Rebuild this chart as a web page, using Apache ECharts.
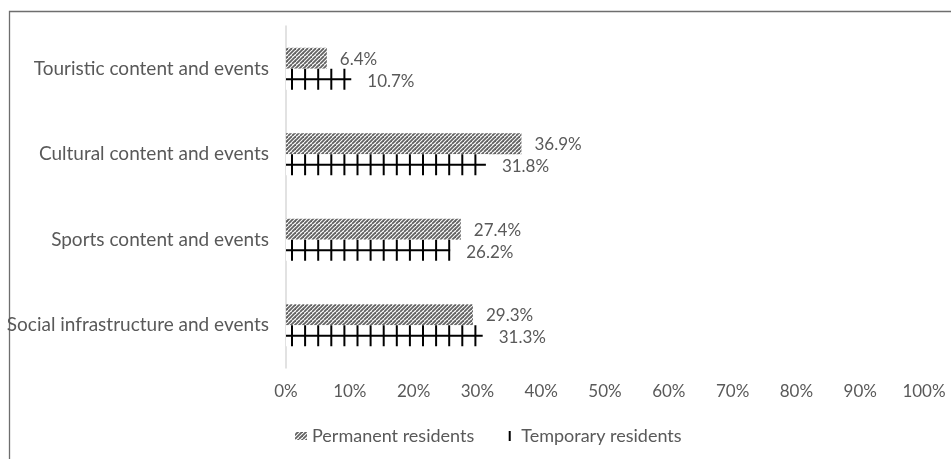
<!DOCTYPE html>
<html>
<head>
<meta charset="utf-8">
<script src="https://cdn.jsdelivr.net/npm/echarts@6/dist/echarts.min.js"></script>
<style>
html,body{margin:0;padding:0;background:#fff;}
#chart{width:951px;height:459px;}
</style>
</head>
<body>
<div id="chart"></div>
<script>
const categories = ['Touristic content and events','Cultural content and events','Sports content and events','Social infrastructure and events'];
const permanent = [6.4, 36.9, 27.4, 29.3];
const temporary = [10.7, 31.8, 26.2, 31.3];
const seriesNames = ['Permanent residents', 'Temporary residents'];

const FONT = 'Lato';
const TXT = '#595959';
const BAR_FRAC = 0.2456;

function makeHatch(){
  const c = document.createElement('canvas');
  c.width = 8; c.height = 8;
  const g = c.getContext('2d');
  g.fillStyle = '#ffffff'; g.fillRect(0,0,8,8);
  g.strokeStyle = '#626262'; g.lineWidth = 1.8;
  for (let k = -8; k <= 16; k += 4){
    g.beginPath(); g.moveTo(k, 8); g.lineTo(k + 8, 0); g.stroke();
  }
  return c;
}
const hatch = {image: makeHatch(), repeat: 'repeat'};

function renderPermanent(params, api){
  const v = api.value(0), c = api.value(1);
  const p0 = api.coord([0, c]); const p1 = api.coord([v, c]);
  const band = api.size([0, 1])[1];
  const h = band * BAR_FRAC;
  const top = p0[1] - h;
  return {type:'group', children:[
    {type:'rect', shape:{x:p0[0], y:top, width:p1[0]-p0[0], height:h}, style:{fill:hatch}},
    {type:'text', x:p1[0] + 13, y:top + h/2 + 1, style:{text:v.toFixed(1) + '%', fill:TXT, font:'17px ' + FONT, verticalAlign:'middle', align:'left'}}
  ]};
}

function renderTemporary(params, api){
  const v = api.value(0), c = api.value(1);
  const p0 = api.coord([0, c]); const p1 = api.coord([v, c]);
  const band = api.size([0, 1])[1];
  const h = band * BAR_FRAC;
  const top = p0[1];
  const children = [
    {type:'rect', shape:{x:p0[0], y:top, width:p1[0]-p0[0], height:h}, style:{fill:'#ffffff'}},
    {type:'line', shape:{x1:p0[0], y1:top + h/2, x2:p1[0] - 3, y2:top + h/2}, style:{stroke:'#000', lineWidth:2}}
  ];
  for (let x = p0[0] + 6; x < p1[0] - 2; x += 13.1){
    children.push({type:'line', shape:{x1:x, y1:top, x2:x, y2:top + h}, style:{stroke:'#000', lineWidth:2}});
  }
  children.push({type:'text', x:p1[0] + 13, y:top + h/2 + 2, style:{text:v.toFixed(1) + '%', fill:TXT, font:'17px ' + FONT, verticalAlign:'middle', align:'left'}});
  return {type:'group', children};
}

const chart = echarts.init(document.getElementById('chart'), null, {renderer:'canvas'});
chart.setOption({
  animation:false,
  backgroundColor:'#ffffff',
  textStyle:{fontFamily:FONT},
  graphic:[{type:'rect', x:0, y:0, shape:{x:9.5, y:11.5, width:1200, height:600}, style:{fill:'none', stroke:'#6e6e6e', lineWidth:1.3}, silent:true, z:-1}],
  grid:{left:286, right:27, top:26, bottom:91, containLabel:false},
  xAxis:{type:'value', min:0, max:100, interval:10,
    axisLine:{show:false}, axisTick:{show:false}, splitLine:{show:false},
    axisLabel:{formatter:'{value}%', color:TXT, fontSize:17, fontFamily:FONT, margin:15}},
  yAxis:{type:'category', data:categories, inverse:true,
    axisLine:{show:true, lineStyle:{color:'#d9d9d9', width:1.5}}, axisTick:{show:false},
    axisLabel:{color:TXT, fontSize:19, fontFamily:FONT, margin:17}},
  legend:{left:295, top:427, padding:0, itemWidth:12, itemHeight:10, itemGap:30, selectedMode:false,
    textStyle:{color:TXT, fontSize:18, fontFamily:FONT, padding:[0,0,0,0]},
    data:[
      {name:seriesNames[0], icon:'path://M0,0 L0.01,0 L0,0.01 Z M12,10 L11.99,10 L12,9.99 Z M0,1 L12,1 L12,9 L0,9 Z', itemStyle:{color:hatch}},
      {name:seriesNames[1], icon:'path://M0,0 L0.01,0 L0,0.01 Z M12,10 L11.99,10 L12,9.99 Z M4.5,0 L6.5,0 L6.5,10 L4.5,10 Z', itemStyle:{color:'#000'}}
    ]},
  series:[
    {name:seriesNames[0], type:'custom', renderItem:renderPermanent, encode:{x:0, y:1},
      data:permanent.map((v,i)=>[v,i]), itemStyle:{color:'#626262'}},
    {name:seriesNames[1], type:'custom', renderItem:renderTemporary, encode:{x:0, y:1},
      data:temporary.map((v,i)=>[v,i]), itemStyle:{color:'#000'}}
  ]
});
</script>
</body>
</html>
